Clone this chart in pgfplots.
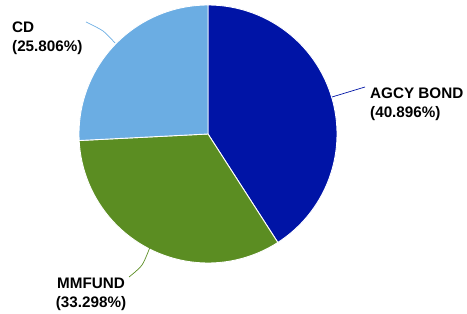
\documentclass[border=0pt]{standalone}
\usepackage{pgfplots}
\pgfplotsset{compat=1.18}
\usepackage{pgfplotstable}
\usepackage{fontspec}
\setmainfont{Liberation Sans}
\definecolor{agcy}{HTML}{0014A6}
\definecolor{mmf}{HTML}{5B8D22}
\definecolor{cdc}{HTML}{6BADE3}
\pgfplotstableread[col sep=comma]{
label,value
AGCY BOND,40.896
MMFUND,33.298
CD,25.806
}\piedata
\pgfplotstablegetelem{0}{value}\of\piedata \let\va\pgfplotsretval
\pgfplotstablegetelem{1}{value}\of\piedata \let\vb\pgfplotsretval
\pgfplotstablegetelem{2}{value}\of\piedata \let\vc\pgfplotsretval
\pgfmathsetmacro\aA{90}
\pgfmathsetmacro\aB{90-3.6*\va}
\pgfmathsetmacro\aC{\aB-3.6*\vb}
\pgfmathsetmacro\aD{\aC-3.6*\vc}
\begin{document}
\begin{tikzpicture}
\begin{axis}[
  width=467bp, height=314bp, scale only axis,
  xmin=0, xmax=467, ymin=0, ymax=314,
  axis lines=none, clip=false,
  every axis plot/.append style={line join=round},
]
\path[draw=none] (rel axis cs:0,0) rectangle (rel axis cs:1,1);
\def\cx{208}\def\cy{180}\def\R{129}
\addplot[fill=agcy, draw=white, line width=0.9pt, domain=\aB:\aA, samples=100, variable=\t]
  ({\cx+\R*cos(\t)},{\cy+\R*sin(\t)}) -- (axis cs:\cx,\cy) -- cycle;
\addplot[fill=mmf, draw=white, line width=0.9pt, domain=\aC:\aB, samples=100, variable=\t]
  ({\cx+\R*cos(\t)},{\cy+\R*sin(\t)}) -- (axis cs:\cx,\cy) -- cycle;
\addplot[fill=cdc, draw=white, line width=0.9pt, domain=\aD:\aC, samples=100, variable=\t]
  ({\cx+\R*cos(\t)},{\cy+\R*sin(\t)}) -- (axis cs:\cx,\cy) -- cycle;
% leader lines
\addplot[agcy, line width=0.7pt, no marks] coordinates {(332,217) (365,227)};
\addplot[cdc, line width=0.7pt, no marks, smooth] coordinates {(115,271) (103,283) (86,292)};
\addplot[mmf, line width=0.7pt, no marks, smooth] coordinates {(150,67) (142,49) (129,37)};
% labels
\node[anchor=west, align=left, inner sep=0pt, font=\fontsize{15.3}{19}\selectfont\bfseries]
  at (axis cs:370,210) {AGCY BOND\\(40.896\%)};
\node[anchor=west, align=left, inner sep=0pt, font=\fontsize{15.3}{19}\selectfont\bfseries]
  at (axis cs:12,275.5) {CD\\(25.806\%)};
\node[anchor=center, align=center, inner sep=0pt, font=\fontsize{15.3}{19}\selectfont\bfseries]
  at (axis cs:91,20) {MMFUND\\(33.298\%)};
\end{axis}
\end{tikzpicture}
\end{document}
